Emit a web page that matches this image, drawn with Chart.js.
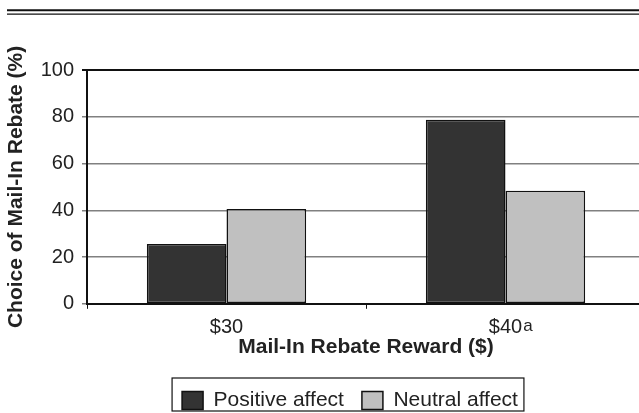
<!DOCTYPE html>
<html>
<head>
<meta charset="utf-8">
<script src="https://cdn.jsdelivr.net/npm/chart.js@4.4.1/dist/chart.umd.min.js"></script>
<style>
  html, body { margin: 0; padding: 0; background: #fff; overflow: hidden; }
  #wrap { position: relative; width: 700px; height: 413px; }
</style>
</head>
<body>
<div id="wrap"><canvas id="rebateChart"></canvas></div>
<script>
  // === Datos ===
  const CATEGORIES = ["$30", "$40"];
  const POSITIVE = [25.6, 78.7];
  const NEUTRAL = [40.5, 48.4];
  const SERIES_LABELS = ["Positive affect", "Neutral affect"];
  const Y_TICKS = [0, 20, 40, 60, 80, 100];
  const FOOTNOTE_CAT = 1; // "$40" lleva la marca "a"

  const FONT = "'Liberation Sans', Arial, Helvetica, sans-serif";
  const DARK = "#333333", LIGHT = "#c0c0c0";

  // Doble regla arriba + superindice + marco de la leyenda
  const extras = {
    id: "extras",
    beforeDraw(chart) {
      const ctx = chart.ctx;
      ctx.save();
      ctx.strokeStyle = "#111";
      ctx.lineWidth = 2;
      ctx.beginPath(); ctx.moveTo(7, 10.3); ctx.lineTo(chart.width, 10.3); ctx.stroke();
      ctx.lineWidth = 1.2;
      ctx.beginPath(); ctx.moveTo(7, 14.2); ctx.lineTo(chart.width, 14.2); ctx.stroke();
      ctx.restore();
    },
    afterDraw(chart) {
      const ctx = chart.ctx;
      const xs = chart.scales.x;
      // superindice "a"
      ctx.save();
      ctx.font = "20px " + FONT;
      const w = ctx.measureText(CATEGORIES[FOOTNOTE_CAT]).width;
      const cx = xs.getPixelForValue(FOOTNOTE_CAT);
      ctx.font = "17px " + FONT;
      ctx.fillStyle = "#222";
      ctx.textBaseline = "alphabetic";
      ctx.fillText("a", cx + w / 2 + 1, 331);
      ctx.restore();
      // marco de la leyenda
      const hb = chart.legend && chart.legend.legendHitBoxes;
      if (hb && hb.length) {
        const left = hb[0].left - 10;
        const last = hb[hb.length - 1];
        const right = last.left + last.width + 6;
        ctx.save();
        ctx.strokeStyle = "#111";
        ctx.lineWidth = 1.2;
        ctx.strokeRect(left, 378, right - left, 33);
        ctx.restore();
      }
    }
  };

  new Chart(document.getElementById("rebateChart"), {
    type: "bar",
    data: {
      labels: CATEGORIES,
      datasets: [
        { label: SERIES_LABELS[0], data: POSITIVE, backgroundColor: DARK, borderColor: "#111", borderWidth: 1.5, borderSkipped: false },
        { label: SERIES_LABELS[1], data: NEUTRAL, backgroundColor: LIGHT, borderColor: "#111", borderWidth: 1.5, borderSkipped: false }
      ]
    },
    options: {
      responsive: true,
      maintainAspectRatio: false,
      animation: false,
      layout: { padding: { top: 70, left: 0, right: 0, bottom: -8 } },
      datasets: { bar: { barPercentage: 1, categoryPercentage: 0.571 } },
      plugins: {
        tooltip: { enabled: false },
        legend: {
          position: "bottom",
          labels: {
            color: "#222",
            font: { family: FONT, size: 21 },
            boxWidth: 21, boxHeight: 18,
            padding: 18
          }
        }
      },
      scales: {
        x: {
          offset: true,
          grid: { offset: true, drawOnChartArea: false, drawTicks: true, tickLength: 5, color: "#111", lineWidth: 1 },
          border: { display: true, color: "#111", width: 2 },
          ticks: { color: "#222", font: { family: FONT, size: 20 }, padding: 7 },
          title: { display: true, text: "Mail-In Rebate Reward ($)", color: "#222",
                   font: { family: FONT, size: 21, weight: "bold" }, padding: { top: -12, bottom: 12 } }
        },
        y: {
          min: 0, max: 100,
          afterBuildTicks(s) { s.ticks = Y_TICKS.map(v => ({ value: v })); },
          afterFit(s) { s.width = 87; },
          grid: {
            tickLength: 5,
            color: (c) => c.tick && c.tick.value === 100 ? "#111" : "#808080",
            lineWidth: (c) => c.tick && c.tick.value === 100 ? 2 : 1.5
          },
          border: { display: true, color: "#111", width: 2 },
          ticks: { color: "#222", font: { family: FONT, size: 20 }, padding: 8 },
          title: { display: true, text: "Choice of Mail-In Rebate (%)", color: "#222",
                   font: { family: FONT, size: 21, weight: "bold" }, padding: { top: 4, bottom: 0 } }
        },
        y2: {
          position: "right",
          display: true,
          afterFit(s) { s.width = 55; },
          grid: { display: false },
          border: { display: false },
          ticks: { display: false }
        }
      }
    },
    plugins: [extras]
  });
</script>
</body>
</html>
